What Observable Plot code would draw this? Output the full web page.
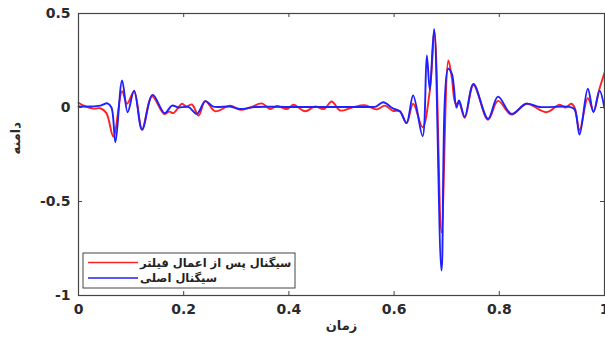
<!DOCTYPE html>
<html>
<head>
<meta charset="utf-8">
<script src="https://cdn.jsdelivr.net/npm/d3@7"></script>
<script src="https://cdn.jsdelivr.net/npm/@observablehq/plot@0.6"></script>
<style>
  html, body { margin: 0; padding: 0; background: #fff; }
  #chart { width: 605px; height: 339px; }
</style>
</head>
<body>
<div id="chart"></div>
<script>
// ---- data ----
const xTicks = [0, 0.2, 0.4, 0.6, 0.8, 1];
const xTickLabels = ["0", "0.2", "0.4", "0.6", "0.8", "1"];
const yTicks = [-1, -0.5, 0, 0.5];
const yTickLabels = ["-1", "-0.5", "0", "0.5"];

const seriesNames = ["سیگنال پس از اعمال فیلتر", "سیگنال اصلی"];

// original signal (blue)
const blueT = [0, 0.0228, 0.0417, 0.0550, 0.0626, 0.0702, 0.0829, 0.0935, 0.1057, 0.1209,
  0.1410, 0.1638, 0.1778, 0.1898, 0.2087, 0.2252, 0.2410, 0.2562, 0.2884, 0.3074,
  0.3359, 0.40, 0.47, 0.5541, 0.5655, 0.5793, 0.5977, 0.6110, 0.6237, 0.6362,
  0.6541, 0.6622, 0.6679, 0.6761, 0.6901, 0.7027, 0.7097, 0.7186, 0.7235, 0.7343,
  0.7509, 0.7786, 0.7975, 0.8230, 0.8514, 0.8767, 0.9336, 0.9431, 0.9526, 0.9683,
  0.9791, 0.9905, 1.0];
const blueV = [0.005, 0.005, 0.01, 0.022, 0.0, -0.185, 0.144, -0.025, 0.09, -0.119,
  0.067, -0.03, 0.01, 0.0, 0.003, -0.034, 0.034, 0.005, 0.005, -0.008,
  0.003, 0.003, 0.003, 0.003, 0.005, 0.028, -0.005, -0.02, -0.083, 0.064,
  -0.152, 0.277, 0.094, 0.418, -0.867, 0.206, 0.18, 0.0, 0.037, -0.05,
  0.125, -0.06, 0.058, -0.034, 0.02, 0.003, 0.003, -0.01, -0.144, 0.1,
  -0.025, 0.09, -0.005];

// filtered signal (red)
const redT = [0, 0.0114, 0.0285, 0.0417, 0.0531, 0.0664, 0.0829, 0.0923, 0.1057, 0.1209,
  0.1395, 0.1632, 0.1727, 0.1803, 0.1968, 0.2049, 0.2157, 0.2283, 0.2410, 0.2600,
  0.2884, 0.3074, 0.3264, 0.3486, 0.3643, 0.3776, 0.3966, 0.4085, 0.4307, 0.4497,
  0.4668, 0.4814, 0.4972, 0.5199, 0.5446, 0.5668, 0.5825, 0.5977, 0.6110, 0.6237,
  0.6362, 0.6541, 0.6679, 0.6768, 0.6901, 0.7032, 0.7097, 0.7173, 0.7235, 0.7343,
  0.7509, 0.7786, 0.7975, 0.8230, 0.8514, 0.8894, 0.9146, 0.9260, 0.9368, 0.9431,
  0.9526, 0.9683, 0.9791, 0.9905, 1.0];
const redV = [0.025, 0.008, -0.006, -0.004, -0.03, -0.155, 0.087, 0.02, 0.085, -0.115,
  0.06, -0.035, -0.022, -0.03, 0.02, 0.005, 0.016, -0.043, 0.034, -0.02,
  0.01, -0.012, 0.0, 0.022, -0.008, 0.008, -0.008, 0.015, -0.02, 0.005,
  -0.008, 0.032, -0.016, 0.0, 0.012, -0.01, 0.01, -0.018, -0.02, -0.083,
  0.02, -0.105, 0.09, 0.40, -0.665, 0.25, 0.16, 0.02, 0.025, -0.055,
  0.12, -0.065, 0.035, -0.038, 0.02, -0.025, 0.015, 0.0, 0.02, 0.0,
  -0.12, 0.05, -0.02, 0.1, 0.185];

const colors = ["#ff2222", "#1f1fff"];

// ---- build tables ----
const red = redT.map((t, i) => ({t, v: redV[i]}));
const blue = blueT.map((t, i) => ({t, v: blueV[i]}));

const font = "DejaVu Sans, Liberation Sans, sans-serif";
const tickLenY = 4 / 188;   // inward tick lengths (data units)
const tickLenX = 4 / 526;

const plot = Plot.plot({
  width: 605,
  height: 339,
  marginLeft: 78,
  marginRight: 1,
  marginTop: 13,
  marginBottom: 44,
  x: {domain: [0, 1]},
  y: {domain: [-1, 0.5]},
  style: {fontFamily: font, background: "#fff"},
  marks: [
    Plot.line(red, {x: "t", y: "v", stroke: colors[0], strokeWidth: 1.9, curve: "catmull-rom"}),
    Plot.line(blue, {x: "t", y: "v", stroke: colors[1], strokeWidth: 1.9, curve: "catmull-rom"}),
    // inward ticks
    Plot.ruleX(xTicks, {y1: -1, y2: -1 + tickLenY, stroke: "#444"}),
    Plot.ruleX(xTicks, {y1: 0.5, y2: 0.5 - tickLenY, stroke: "#444"}),
    Plot.ruleY(yTicks, {x1: 0, x2: tickLenX, stroke: "#444"}),
    Plot.ruleY(yTicks, {x1: 1, x2: 1 - tickLenX, stroke: "#444"}),
    Plot.frame({stroke: "#444", strokeWidth: 1.2}),
    Plot.axisX(xTicks, {
      tickSize: 0, tickPadding: 9, fontSize: 14, fontWeight: "bold", fill: "#2a2a2a",
      tickFormat: d => xTickLabels[xTicks.indexOf(d)], label: null
    }),
    Plot.axisY(yTicks, {
      tickSize: 0, tickPadding: 8, fontSize: 14, fontWeight: "bold", fill: "#2a2a2a",
      tickFormat: d => yTickLabels[yTicks.indexOf(d)], label: null
    }),
    Plot.text(["زمان"], {frameAnchor: "bottom", dy: 34, fontSize: 13, fontWeight: "bold", fill: "#2a2a2a"}),
    Plot.text(["دامنه"], {frameAnchor: "left", dx: -63, rotate: -90, fontSize: 13, fontWeight: "bold", fill: "#2a2a2a"})
  ]
});

// legend inside plot area (bottom-left)
const svg = d3.select(plot);
const lg = svg.append("g").attr("font-family", font);
lg.append("rect").attr("x", 83).attr("y", 253).attr("width", 212).attr("height", 35)
  .attr("fill", "#fff").attr("stroke", "#444").attr("stroke-width", 1);
seriesNames.forEach((name, i) => {
  const y = 262.5 + i * 15.5;
  lg.append("line").attr("x1", 88).attr("x2", 138).attr("y1", y).attr("y2", y)
    .attr("stroke", colors[i]).attr("stroke-width", 1.5);
  lg.append("text").attr("x", 140).attr("y", y).attr("dy", "0.35em")
    .attr("text-anchor", "start").attr("direction", "ltr")
    .attr("font-size", 11.5).attr("font-weight", "bold").attr("fill", "#222")
    .text(name);
});

document.getElementById("chart").appendChild(plot);
</script>
</body>
</html>
